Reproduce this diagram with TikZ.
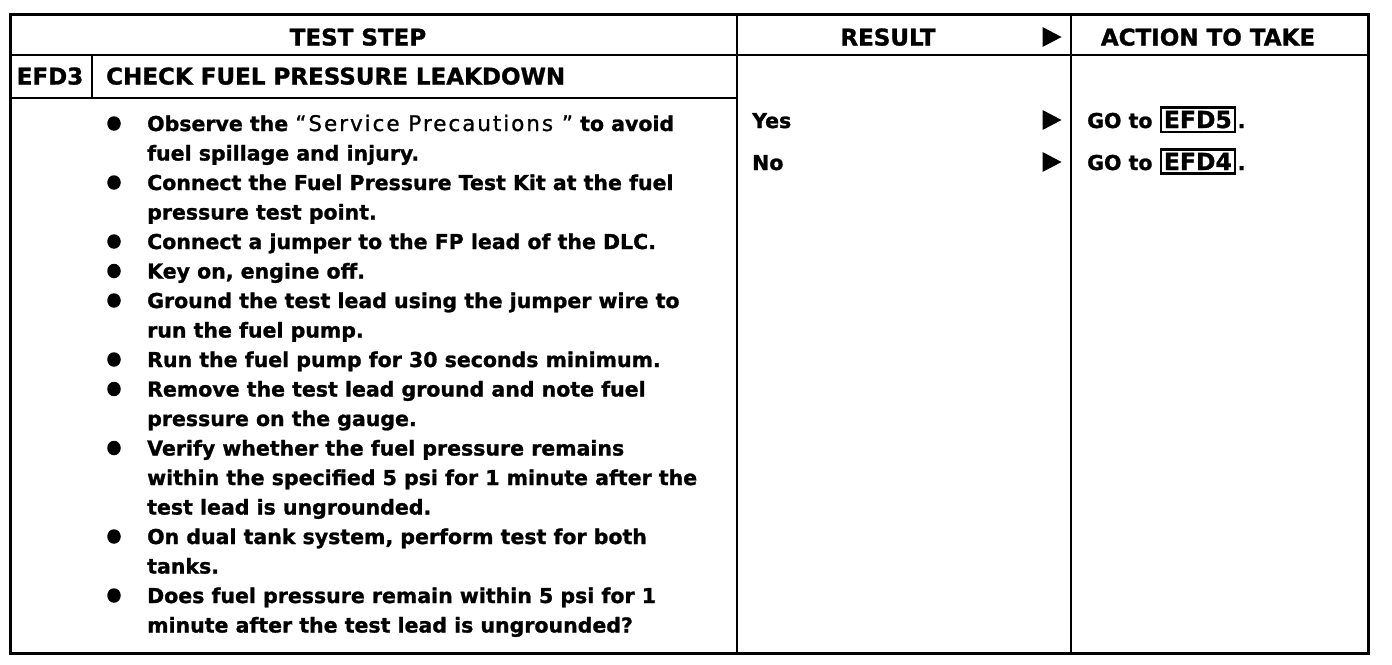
\documentclass[tikz,border=0pt]{standalone}
\usepackage{fontspec}
\usetikzlibrary{shapes.geometric}
\setmainfont{DejaVu Sans}[BoldFeatures={FakeBold=1.2}]
\newfontfamily\quotefont{DejaVu Sans}[LetterSpace=9,FakeBold=1,Scale=1.05]
\newcommand\bodyfont{\fontsize{20.5}{24}\selectfont\bfseries}
\newcommand\headfont{\fontsize{23}{26}\selectfont\bfseries}
\newcommand\boxfont{\fontsize{23.5}{26}\selectfont\bfseries}
\begin{document}
\begin{tikzpicture}[x=1pt,y=-1pt,
  frame/.style={line width=3pt},
  rulel/.style={line width=2.6pt},
  body/.style={anchor=base west,inner sep=0pt,font=\bodyfont},
  head/.style={anchor=base,inner sep=0pt,font=\headfont},
  bul/.style={ellipse,fill=black,inner sep=0pt,minimum width=13.5pt,minimum height=14.5pt},
  efdbox/.style={draw,line width=2.4pt,inner xsep=3pt,inner ysep=3.5pt,font=\boxfont,anchor=base west},
  tri/.style={fill=black}]
\useasboundingbox (0,0) rectangle (1392,664);
% frame and rules
\coordinate (tl) at (10,14);
\coordinate (br) at (1368,653);
\draw[frame] (tl) rectangle (br);
\coordinate (hl) at (10,55);
\coordinate (hr) at (1368,55);
\draw[rulel] (hl) -- (hr);
\coordinate (c1t) at (737,14);
\coordinate (c1b) at (737,653);
\draw[rulel] (c1t) -- (c1b);
\coordinate (c2t) at (1071,14);
\coordinate (c2b) at (1071,653);
\draw[rulel] (c2t) -- (c2b);
\coordinate (el) at (10,98);
\coordinate (er) at (737,98);
\draw[rulel] (el) -- (er);
\coordinate (dt) at (92,55);
\coordinate (db) at (92,98);
\draw[rulel] (dt) -- (db);
% header
\node[head] (hts) at (358,45.5) {TEST STEP};
\node[head] (hres) at (888,45.5) {RESULT};
\node[head] (hact) at (1208,45.5) {ACTION TO TAKE};
\coordinate (a0) at (1052,37);
\fill[tri] (a0) ++(-9.5,-10) -- ++(19,10) -- ++(-19,10) -- cycle;
% step title
\node[head] (efd3) at (50,84.5) {EFD3};
\node[head,anchor=base west] (title) at (106,84.5) {CHECK FUEL PRESSURE LEAKDOWN};
% bullets
\node[bul] (b0) at (114,123.5) {};
\node[bul] (b1) at (114,182.5) {};
\node[bul] (b2) at (114,241.5) {};
\node[bul] (b3) at (114,271) {};
\node[bul] (b4) at (114,300.5) {};
\node[bul] (b5) at (114,359.5) {};
\node[bul] (b6) at (114,389) {};
\node[bul] (b7) at (114,448) {};
\node[bul] (b8) at (114,536.5) {};
\node[bul] (b9) at (114,595.5) {};
% body lines
\node[body] (l0) at (147,131) {Observe the {\quotefont\mdseries “Service Precautions ”} to avoid};
\node[body] (l1) at (147,160.5) {fuel spillage and injury.};
\node[body] (l2) at (147,190) {Connect the Fuel Pressure Test Kit at the fuel};
\node[body] (l3) at (147,219.5) {pressure test point.};
\node[body] (l4) at (147,249) {Connect a jumper to the FP lead of the DLC.};
\node[body] (l5) at (147,278.5) {Key on, engine off.};
\node[body] (l6) at (147,308) {Ground the test lead using the jumper wire to};
\node[body] (l7) at (147,337.5) {run the fuel pump.};
\node[body] (l8) at (147,367) {Run the fuel pump for 30 seconds minimum.};
\node[body] (l9) at (147,396.5) {Remove the test lead ground and note fuel};
\node[body] (l10) at (147,426) {pressure on the gauge.};
\node[body] (l11) at (147,455.5) {Verify whether the fuel pressure remains};
\node[body] (l12) at (147,485) {within the specified 5 psi for 1 minute after the};
\node[body] (l13) at (147,514.5) {test lead is ungrounded.};
\node[body] (l14) at (147,544) {On dual tank system, perform test for both};
\node[body] (l15) at (147,573.5) {tanks.};
\node[body] (l16) at (147,603) {Does fuel pressure remain within 5 psi for 1};
\node[body] (l17) at (147,632.5) {minute after the test lead is ungrounded?};
% results
\node[body] (yes) at (752,128) {Yes};
\node[body] (no) at (752,170) {No};
\coordinate (a1) at (1052,120);
\fill[tri] (a1) ++(-9.5,-10) -- ++(19,10) -- ++(-19,10) -- cycle;
\coordinate (a2) at (1052,162);
\fill[tri] (a2) ++(-9.5,-10) -- ++(19,10) -- ++(-19,10) -- cycle;
% actions
\node[body] (go1) at (1087,128) {GO to};
\node[efdbox] (efd5) at ([xshift=7pt]go1.base east) {EFD5};
\node[body] (p1) at ([xshift=1.5pt]efd5.base east) {.};
\node[body] (go2) at (1087,170) {GO to};
\node[efdbox] (efd4) at ([xshift=7pt]go2.base east) {EFD4};
\node[body] (p2) at ([xshift=1.5pt]efd4.base east) {.};
\end{tikzpicture}
\end{document}
